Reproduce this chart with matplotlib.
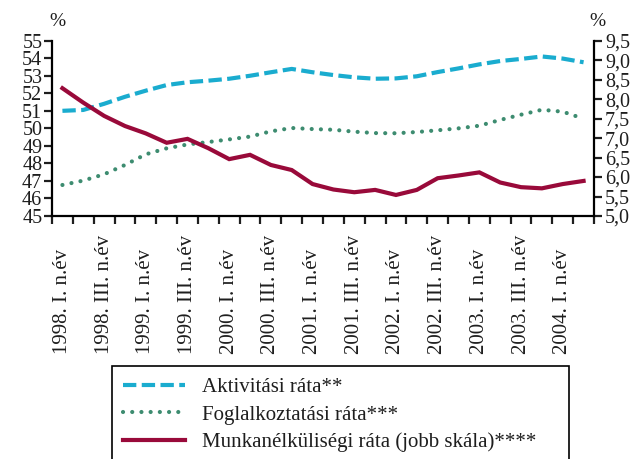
import matplotlib.pyplot as plt
import matplotlib.transforms as mtransforms
import numpy as np

plt.rcParams['font.family'] = 'Liberation Serif'

# quarters 1998 I .. 2004 II
quarters = ['1998. I. n.év', '1998. II. n.év', '1998. III. n.év', '1998. IV. n.év',
            '1999. I. n.év', '1999. II. n.év', '1999. III. n.év', '1999. IV. n.év',
            '2000. I. n.év', '2000. II. n.év', '2000. III. n.év', '2000. IV. n.év',
            '2001. I. n.év', '2001. II. n.év', '2001. III. n.év', '2001. IV. n.év',
            '2002. I. n.év', '2002. II. n.év', '2002. III. n.év', '2002. IV. n.év',
            '2003. I. n.év', '2003. II. n.év', '2003. III. n.év', '2003. IV. n.év',
            '2004. I. n.év', '2004. II. n.év']

aktivitasi = [51.0, 51.05, 51.4, 51.8, 52.15, 52.47, 52.63, 52.72, 52.83, 53.0,
              53.2, 53.39, 53.2, 53.04, 52.91, 52.83, 52.85, 52.97, 53.21, 53.42,
              53.65, 53.84, 53.96, 54.1, 53.98, 53.77]
foglalkoztatasi = [46.77, 47.02, 47.38, 47.91, 48.52, 48.86, 49.08, 49.22, 49.37, 49.53,
                   49.83, 50.02, 49.96, 49.92, 49.81, 49.73, 49.72, 49.79, 49.89, 50.0,
                   50.15, 50.48, 50.78, 51.06, 50.95, 50.55]
munkanelkuli = [8.28, 7.91, 7.57, 7.31, 7.12, 6.88, 6.98, 6.74, 6.46, 6.57,
                6.31, 6.18, 5.82, 5.68, 5.61, 5.67, 5.54, 5.67, 5.97, 6.04,
                6.12, 5.86, 5.74, 5.71, 5.82, 5.9]

left_ticks = list(range(45, 56))
right_ticks = [5.0, 5.5, 6.0, 6.5, 7.0, 7.5, 8.0, 8.5, 9.0, 9.5]

blue = '#1aaccf'
green = '#3d8c70'
red = '#990a3a'
txt = '#1e1e1e'

W, H = 641, 459
fig = plt.figure(figsize=(W / 100, H / 100), dpi=100)
ax = fig.add_axes([52 / W, 1 - 216 / H, (594 - 52) / W, (216 - 40.7) / H])
ax2 = ax.twinx()

x = np.arange(len(quarters))
l1, = ax.plot(x, aktivitasi, color=blue, lw=3, linestyle=(0, (3.2, 1.3)))
l2, = ax.plot(x, foglalkoztatasi, color=green, lw=3.0, linestyle=(0, (0.01, 2.2)),
              dash_capstyle='round')
l3, = ax2.plot(x, munkanelkuli, color=red, lw=3, solid_joinstyle='miter')

ax.set_xlim(-0.5, len(quarters) - 0.5)
ax.set_ylim(45, 55)
ax2.set_ylim(5, 9.5)

ax.set_yticks(left_ticks)
ax.set_yticklabels([str(v) for v in left_ticks], fontsize=14.5)
ax2.set_yticks(right_ticks)
ax2.set_yticklabels([f'{v:.1f}'.replace('.', ',') for v in right_ticks], fontsize=14.5)

ax.set_xticks(np.arange(len(quarters) + 1) - 0.5)
ax.set_xticklabels([])

for a in (ax, ax2):
    a.spines['top'].set_visible(False)
    for s in a.spines.values():
        s.set_linewidth(1.6)
    a.tick_params(width=1.6, length=6, pad=2, colors=txt, labelcolor=txt)
ax.spines['right'].set_visible(False)
ax2.spines['left'].set_visible(False)
ax2.spines['bottom'].set_visible(False)
ax.yaxis.set_tick_params(pad=1)

# rotated category labels, bottom aligned
trans = mtransforms.blended_transform_factory(ax.transData, fig.transFigure)
for i in range(0, len(quarters), 2):
    ax.text(i, 1 - 354 / H, quarters[i], rotation=90, ha='center', va='bottom',
            fontsize=15, transform=trans, color=txt)

fig.text(57 / W, 1 - 22 / H, '%', ha='center', va='center', fontsize=14, color=txt)
fig.text(597 / W, 1 - 22 / H, '%', ha='center', va='center', fontsize=14, color=txt)

leg = fig.legend([l1, l2, l3],
                 ['Aktivitási ráta**', 'Foglalkoztatási ráta***',
                  'Munkanélküliségi ráta (jobb skála)****'],
                 loc='upper left', bbox_to_anchor=(112 / W, 0.0, (569 - 112) / W, 1 - 366 / H),
                 mode='expand', borderaxespad=0, fontsize=15, handlelength=2.95,
                 handletextpad=0.8, labelspacing=0.38, borderpad=0.55,
                 fancybox=False, framealpha=1, edgecolor='black')
leg.get_frame().set_linewidth(1.2)
for t in leg.get_texts():
    t.set_color(txt)

fig.savefig('out.png', dpi=100)
